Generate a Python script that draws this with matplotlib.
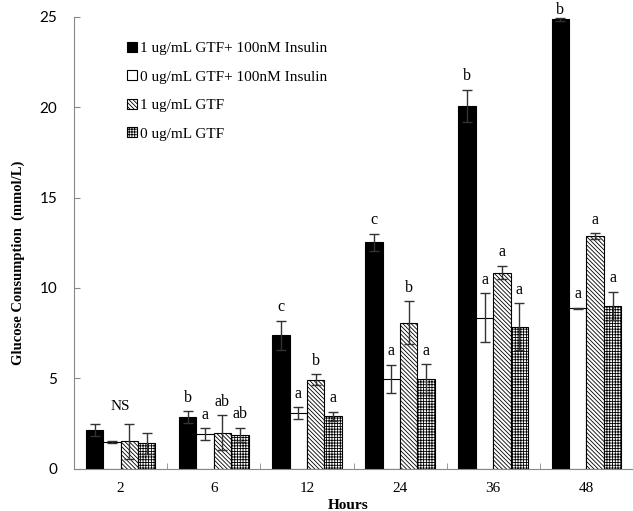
import numpy as np
import matplotlib.pyplot as plt

hours = ['2', '6', '12', '24', '36', '48']
series = ['1 ug/mL GTF+ 100nM Insulin', '0 ug/mL GTF+ 100nM Insulin',
          '1 ug/mL GTF', '0 ug/mL GTF']

gtf_ins = [2.16, 2.83, 7.38, 12.53, 20.07, 24.86]
ctl_ins = [1.46, 1.89, 3.08, 4.97, 8.34, 8.86]
gtf = [1.50, 1.98, 4.93, 8.08, 10.85, 12.85]
ctl = [1.39, 1.87, 2.90, 4.97, 7.84, 9.00]

gtf_ins_err = [0.33, 0.33, 0.81, 0.48, 0.89, 0.10]
ctl_ins_err = [0.07, 0.33, 0.31, 0.77, 1.35, 0.05]
gtf_err = [0.95, 0.96, 0.28, 1.18, 0.37, 0.17]
ctl_err = [0.60, 0.38, 0.24, 0.80, 1.30, 0.80]

letters = [
    ['', 'b', 'c', 'c', 'b', 'b'],
    ['', 'a', 'a', 'a', 'a', 'a'],
    ['', 'ab', 'b', 'b', 'a', 'a'],
    ['', 'ab', 'a', 'a', 'a', 'a'],
]

plt.rcParams['hatch.linewidth'] = 0.6
serif = 'Liberation Serif'

fig = plt.figure(figsize=(6.33, 5.11), dpi=100)
ax = fig.add_axes([0.117, 0.083, 0.883, 0.884])

x = np.arange(len(hours))
w = 0.187
offsets = [-0.28, -0.093, 0.093, 0.28]
vals = [gtf_ins, ctl_ins, gtf, ctl]
errs = [gtf_ins_err, ctl_ins_err, gtf_err, ctl_err]
faces = ['black', 'white', 'white', 'white']
hatches = [None, None, '\\\\\\\\\\\\\\\\', '++++++']

for i in range(4):
    ax.bar(x + offsets[i], vals[i], w, color=faces[i], edgecolor='black',
           hatch=hatches[i], linewidth=0.8, label=series[i], zorder=2)
    ax.errorbar(x + offsets[i], vals[i], yerr=errs[i], fmt='none',
                ecolor='#333333', elinewidth=1, capsize=3.5, capthick=1, zorder=3)
    for j in range(len(hours)):
        if letters[i][j]:
            top = vals[i][j] + errs[i][j]
            # the tallest bar's letter sits right on its cap
            ax.annotate(letters[i][j], (x[j] + offsets[i], top),
                        xytext=(0, 0 if top > 24 else 4), textcoords='offset points',
                        ha='center', va='bottom', fontsize=11.5, family=serif,
                        annotation_clip=False)

ax.text(0, 3.45, 'NS', ha='center', va='center', fontsize=11, family=serif)

ax.set_xlim(-0.5, 5.46)
ax.set_ylim(0, 25)
ax.set_yticks([0, 5, 10, 15, 20, 25])
ax.set_xticks(x)
ax.set_xticklabels(hours, family=serif, fontsize=11)
ax.set_xticks(np.arange(-0.5, 6, 1), minor=True)
ax.tick_params(axis='x', which='major', length=0, pad=10)
ax.tick_params(axis='x', which='minor', direction='in', length=4, color='#888888')
ax.tick_params(axis='y', direction='in', length=4, color='#888888', labelsize=11, pad=12)
for lab in ax.get_yticklabels():
    lab.set_family('Lato')

for s in ['top', 'right']:
    ax.spines[s].set_visible(False)
for s in ['left', 'bottom']:
    ax.spines[s].set_color('#888888')

ax.set_xlabel('Hours', family=serif, fontweight='bold', fontsize=11)
ax.xaxis.set_label_coords(0.49, -0.068)
ax.set_ylabel('Glucose Consumption  (mmol/L)', family=serif, fontweight='bold', fontsize=10.5)
ax.yaxis.set_label_coords(-0.088, 0.455)

ax.legend(loc='upper left', bbox_to_anchor=(0.071, 0.975), frameon=False,
          handlelength=0.6, handleheight=0.6, handletextpad=0.2, labelspacing=1.0,
          prop={'family': serif, 'size': 11})

fig.savefig('out.png', dpi=100)
